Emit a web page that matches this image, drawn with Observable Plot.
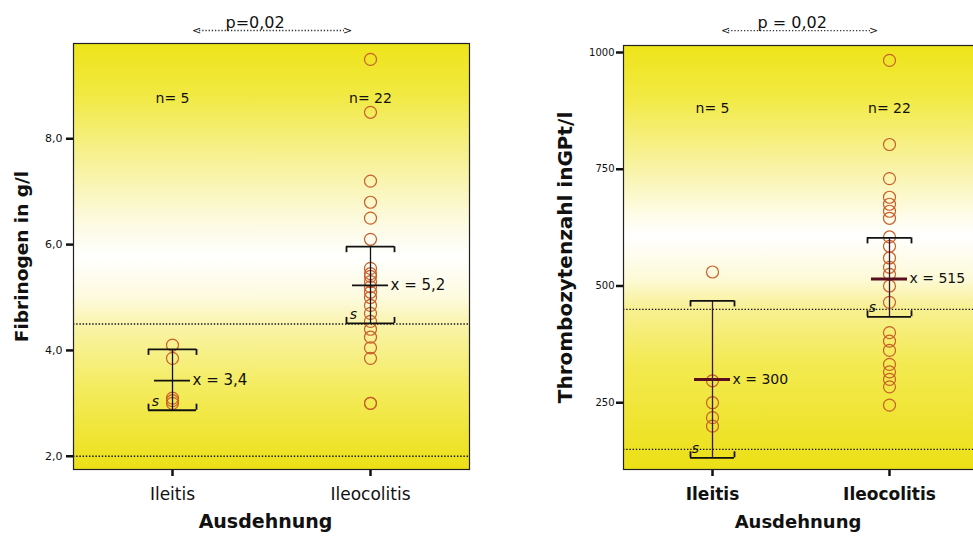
<!DOCTYPE html>
<html><head><meta charset="utf-8">
<script src="https://cdn.jsdelivr.net/npm/d3@7"></script>
<script src="https://cdn.jsdelivr.net/npm/@observablehq/plot@0.6"></script>
<style>
html,body{margin:0;padding:0;background:#fff;overflow:hidden;}
#wrap{position:relative;width:973px;height:538px;overflow:hidden;background:#fff;}
#left{position:absolute;left:0;top:0;width:490px;height:538px;}
#right{position:absolute;left:490px;top:0;width:490px;height:538px;}
#wrap svg{max-width:none !important;display:block;}
</style></head><body><div id="wrap"><div id="left"></div><div id="right"></div></div>
<script>
// ---------- data ----------
const categories = ["Ileitis", "Ileocolitis"];
const xTitle = "Ausdehnung";

// Fibrinogen in g/l
const fibTitle = "Fibrinogen in g/l";
const fibIleitis = [4.1, 3.85, 3.1, 3.05, 3.0];
const fibIleocolitis = [9.5, 8.5, 7.2, 6.8, 6.5, 6.1, 5.55, 5.45, 5.4, 5.3, 5.2, 5.1, 5.0, 4.85, 4.7, 4.55, 4.4, 4.25, 4.05, 3.85, 3.0, 3.0];
const fibMean = [3.43, 5.23];
const fibMeanText = ["3,4", "5,2"];
const fibLower = [2.87, 4.51];
const fibUpper = [4.02, 5.96];
const fibN = [5, 22];
const fibRefLines = [4.5, 2.0];
const fibTicks = [2, 4, 6, 8];
const fibTickLabels = ["2,0", "4,0", "6,0", "8,0"];
const fibP = "p=0,02";

// Thrombozytenzahl in GPt/l
const thrTitle = "Thrombozytenzahl inGPt/l";
const thrIleitis = [530, 297, 250, 218, 200];
const thrIleocolitis = [983, 803, 730, 690, 675, 660, 645, 605, 585, 560, 540, 525, 500, 465, 400, 382, 362, 332, 316, 300, 284, 245];
const thrMean = [300, 515];
const thrMeanText = ["300", "515"];
const thrLower = [132, 434];
const thrUpper = [468, 603];
const thrN = [5, 22];
const thrRefLines = [450, 150];
const thrTicks = [250, 500, 750, 1000];
const thrTickLabels = ["250", "500", "750", "1000"];
const thrP = "p = 0,02";

// ---------- drawing ----------
function gradientDefs(id, stops) {
  return `<linearGradient id="${id}" x1="0" y1="0" x2="0" y2="1">` +
    stops.map(([o, c]) => `<stop offset="${o}" stop-color="${c}"/>`).join("") +
    `</linearGradient>`;
}

function makePanel(cfg) {
  const pts = [];
  cfg.values.forEach((vals, i) => vals.forEach(v => pts.push({cat: categories[i], v})));
  const stats = categories.map((c, i) => ({
    cat: c, mean: cfg.mean[i], lo: cfg.lower[i], hi: cfg.upper[i],
    mtext: "x = " + cfg.meanText[i], n: "n= " + cfg.n[i]
  }));
  const pAnn = [{from: categories[0], to: categories[1], y: cfg.pLevel, label: cfg.pText}];
  const tickLabel = new Map(cfg.ticks.map((t, i) => [t, cfg.tickLabels[i]]));
  const cw = cfg.capHalf;
  const svg = Plot.plot({
    width: cfg.width, height: 538,
    marginLeft: cfg.ml, marginRight: cfg.mr, marginTop: cfg.mt, marginBottom: cfg.mb,
    x: {type: "point", domain: categories, padding: 0.5},
    y: {domain: cfg.yDomain},
    style: {fontFamily: "DejaVu Sans, sans-serif", background: "transparent", color: "#111", overflow: "visible", maxWidth: "none"},
    marks: [
      Plot.frame({fill: `url(#${cfg.gradId})`}),
      Plot.ruleY(cfg.refLines, {stroke: "#111", strokeDasharray: "1.4,1.8", strokeWidth: 1.4}),
      Plot.dot(pts, {x: "cat", y: "v", r: 6, stroke: cfg.dotColor, strokeWidth: 1.2}),
      Plot.ruleX(stats, {x: "cat", y1: "lo", y2: "hi", stroke: cfg.barColor, strokeWidth: 1.3}),
      Plot.ruleY(stats, {x1: "cat", x2: "cat", y: "hi", insetLeft: -cw, insetRight: -cw, stroke: "#111", strokeWidth: 1.8}),
      Plot.ruleY(stats, {x1: "cat", x2: "cat", y: "lo", insetLeft: -cw, insetRight: -cw, stroke: "#111", strokeWidth: 1.8}),
      Plot.ruleX(stats, {x: "cat", dx: -cw, y1: "hi", y2: "hi", insetBottom: -6, stroke: "#111", strokeWidth: 1.8}),
      Plot.ruleX(stats, {x: "cat", dx: cw, y1: "hi", y2: "hi", insetBottom: -6, stroke: "#111", strokeWidth: 1.8}),
      Plot.ruleX(stats, {x: "cat", dx: -cw, y1: "lo", y2: "lo", insetTop: -6, stroke: "#111", strokeWidth: 1.8}),
      Plot.ruleX(stats, {x: "cat", dx: cw, y1: "lo", y2: "lo", insetTop: -6, stroke: "#111", strokeWidth: 1.8}),
      Plot.ruleY(stats, {x1: "cat", x2: "cat", y: "mean", insetLeft: -18, insetRight: -18, stroke: cfg.meanColor, strokeWidth: cfg.meanWidth}),
      Plot.text(stats, {x: "cat", y: "mean", text: "mtext", textAnchor: "start", dx: 20, fontSize: cfg.meanFont}),
      Plot.text(stats, {x: "cat", y: "lo", text: () => "s", dx: -17, dy: -9, fontSize: 14, fontStyle: "italic"}),
      Plot.text(stats, {x: "cat", text: "n", frameAnchor: "top", textAnchor: "middle", dy: cfg.nDy, fontSize: 14}),
      Plot.ruleY(pAnn, {y: "y", x1: "from", x2: "to", insetLeft: cfg.pInsetL, insetRight: cfg.pInsetR, stroke: "#333", strokeDasharray: "1.3,1.9", strokeWidth: 1.3}),
      Plot.text(pAnn, {x: "from", y: "y", text: "label", textAnchor: "start", dx: cfg.pTextDx, dy: -8, fontSize: 16}),
      Plot.text(pAnn, {x: "from", y: "y", text: () => "<", dx: cfg.pInsetL - 3, fontSize: 11}),
      Plot.text(pAnn, {x: "to", y: "y", text: () => ">", dx: -cfg.pInsetR + 3, fontSize: 11}),
      Plot.axisY({ticks: cfg.ticks, tickFormat: d => tickLabel.get(d), tickSize: 7, tickPadding: cfg.tickPad, strokeWidth: 2.5, fontSize: cfg.tickFont, label: null}),
      Plot.axisX({tickSize: 7, tickPadding: 11, strokeWidth: 2.5, fontSize: 17, fontWeight: cfg.xWeight, label: null}),
      Plot.text([cfg.yTitle], {text: d => d, frameAnchor: "left", textAnchor: "middle", dx: cfg.yTitleDx, rotate: -90, fontWeight: "bold", fontSize: cfg.yTitleFont}),
      Plot.text([xTitle], {text: d => d, frameAnchor: "bottom", textAnchor: "middle", dy: 58, dx: cfg.xTitleDx, fontWeight: "bold", fontSize: cfg.xTitleFont}),
      Plot.frame({stroke: "#222", strokeWidth: 1.2})
    ]
  });
  d3.select(svg).insert("defs", ":first-child").html(gradientDefs(cfg.gradId, cfg.stops));
  return svg;
}

document.getElementById("left").appendChild(makePanel({
  width: 490, ml: 73, mr: 21, mt: 43, mb: 69,
  yDomain: [1.75, 9.8],
  values: [fibIleitis, fibIleocolitis], mean: fibMean, meanText: fibMeanText,
  lower: fibLower, upper: fibUpper, n: fibN, refLines: fibRefLines,
  ticks: fibTicks, tickLabels: fibTickLabels, tickPad: 4, tickFont: 11,
  pText: fibP, pLevel: 10.046, pInsetL: 27, pInsetR: 26, pTextDx: 53,
  capHalf: 24, meanColor: "#111", meanWidth: 1.6, meanFont: 15, barColor: "#111",
  dotColor: "#c8602a", nDy: 50, xWeight: "normal",
  yTitle: fibTitle, yTitleDx: -51, yTitleFont: 18.5, xTitleDx: -6, xTitleFont: 19,
  gradId: "gradL",
  stops: [[0, "#eee41a"], [0.12, "#f1e942"], [0.25, "#f6f08a"], [0.4, "#fcf9d8"], [0.5, "#ffffff"],
          [0.6, "#fdfadc"], [0.67, "#f9f3a4"], [0.8, "#f4ec62"], [1, "#ece016"]]
}));

document.getElementById("right").appendChild(makePanel({
  width: 490, ml: 133, mr: 2, mt: 45, mb: 69,
  yDomain: [107, 1015],
  values: [thrIleitis, thrIleocolitis], mean: thrMean, meanText: thrMeanText,
  lower: thrLower, upper: thrUpper, n: thrN, refLines: thrRefLines,
  ticks: thrTicks, tickLabels: thrTickLabels, tickPad: 2, tickFont: 10,
  pText: thrP, pLevel: 1047, pInsetL: 16, pInsetR: 19, pTextDx: 45,
  capHalf: 22, meanColor: "#5a0f1e", meanWidth: 3, meanFont: 14, barColor: "#3a1a34",
  dotColor: "#c8602a", nDy: 58, xWeight: "bold",
  yTitle: thrTitle, yTitleDx: -58, yTitleFont: 20, xTitleDx: -3, xTitleFont: 18,
  gradId: "gradR",
  stops: [[0, "#eee41a"], [0.12, "#f2ea42"], [0.28, "#f8f2a0"], [0.4, "#fefce8"], [0.45, "#ffffff"],
          [0.55, "#fdfad8"], [0.62, "#f8f092"], [0.75, "#f3ea52"], [1, "#ece016"]]
}));
</script>
</body></html>
